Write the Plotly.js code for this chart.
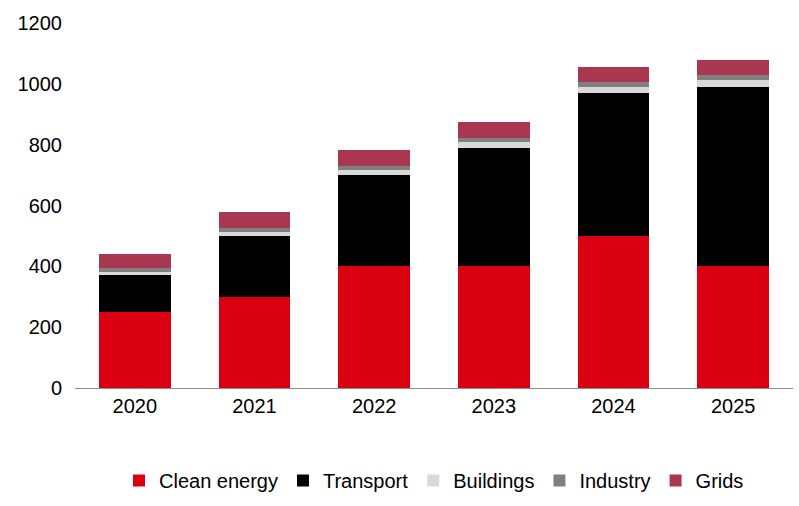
<!DOCTYPE html>
<html>
<head>
<meta charset="utf-8">
<script src="https://cdn.plot.ly/plotly-3.0.1.min.js"></script>
<style>body{margin:0;background:#fff}#chart{width:799px;height:506px}</style>
</head>
<body>
<div id="chart"></div>
<script>
const years = ['2020', '2021', '2022', '2023', '2024', '2025'];
const cleanEnergy = [250, 300, 400, 400, 500, 400];
const transport = [120, 200, 300, 390, 470, 590];
const buildings = [12, 14, 16, 20, 20, 23];
const industry = [12, 13, 13, 12, 15, 16];
const grids = [46, 51, 52, 51, 51, 48];

const series = [
  ['Clean energy', cleanEnergy, '#db0011'],
  ['Transport', transport, '#000000'],
  ['Buildings', buildings, '#d9d9d9'],
  ['Industry', industry, '#808080'],
  ['Grids', grids, '#a8374f']
];

const traces = series.map(([name, vals, color]) => ({
  x: years,
  y: vals,
  name: name,
  type: 'bar',
  marker: { color: color },
  hoverinfo: 'x+y+name'
}));

Plotly.newPlot('chart', traces, {
  barmode: 'stack',
  bargap: 0.4,
  width: 799,
  height: 506,
  margin: { l: 75, r: 6, t: 23, b: 110 },
  paper_bgcolor: '#fff',
  plot_bgcolor: '#fff',
  font: { family: 'Liberation Sans, Arial, sans-serif', size: 20, color: '#000' },
  xaxis: {
    showline: true, linecolor: '#8c8c8c', linewidth: 1,
    ticks: '', tickfont: { size: 20 }
  },
  yaxis: {
    range: [0, 1200], dtick: 200, showgrid: false, zeroline: false,
    ticks: '', tickfont: { size: 20 }, ticklabelstandoff: 12
  },
  legend: {
    orientation: 'h', x: 0.5, xanchor: 'center', y: -0.2, yanchor: 'top',
    font: { size: 20 }, itemwidth: 30, traceorder: 'normal'
  },
  showlegend: true
}, { displayModeBar: false, staticPlot: true });
</script>
</body>
</html>
